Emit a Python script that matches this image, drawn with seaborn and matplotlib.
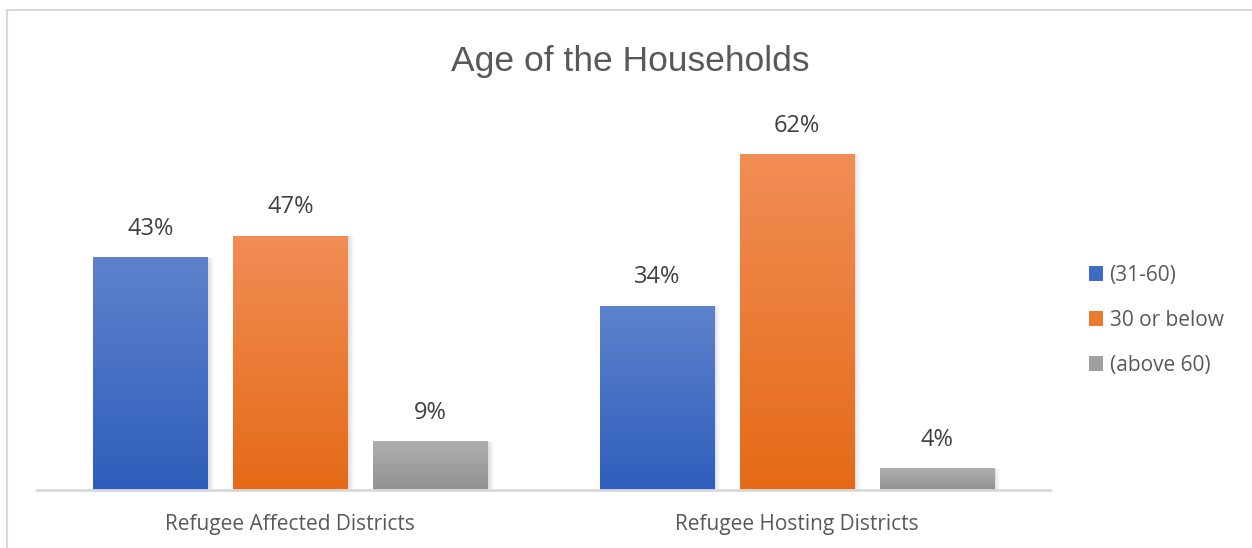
import numpy as np
import pandas as pd
import matplotlib
matplotlib.use("Agg")
import matplotlib.pyplot as plt
import matplotlib.colors as mcolors
from matplotlib.patches import Rectangle
import seaborn as sns

# Data
districts = ["Refugee Affected Districts", "Refugee Hosting Districts"]
age_groups = ["(31-60)", "30 or below", "(above 60)"]
share_31_60 = [43, 34]
share_30_below = [47, 62]
share_above_60 = [9, 4]

# Gradient colours per age group (top, bottom)
top_colors = ["#5E82CC", "#F18D55", "#AEAEAE"]
bottom_colors = ["#2E5EBC", "#E56A17", "#929292"]
legend_colors = ["#3F6BC4", "#EC7A2E", "#A0A0A0"]

df = pd.DataFrame({
    "district": np.repeat(districts, len(age_groups)),
    "age": age_groups * len(districts),
    "share": [v for i in range(len(districts))
              for v in (share_31_60[i], share_30_below[i], share_above_60[i])],
})

sns.set_theme(style="white")
plt.rcParams["font.family"] = ["Open Sans", "DejaVu Sans"]

fig = plt.figure(figsize=(12.52, 5.48), dpi=100)
W, H = 1252, 548
ax = fig.add_axes([37 / W, 1 - 490 / H, (1050 - 37) / W, 379 / H])

sns.barplot(data=df, x="district", y="share", hue="age", order=districts,
            hue_order=age_groups, palette=legend_colors, width=0.829, gap=0.185,
            ax=ax, legend=False, saturation=1)

ax.set_xlim(-0.5, 1.5)
ax.set_ylim(0, 70)

# Replace flat fills with vertical gradients and soft shadows
patches = list(ax.patches)
for k, p in enumerate(patches):
    hue_idx = k // len(districts)
    x0, y0 = p.get_x(), p.get_y()
    w, h = p.get_width(), p.get_height()
    # soft shadow
    for s, a in [(0.010, 0.03), (0.007, 0.04), (0.004, 0.05)]:
        ax.add_patch(Rectangle((x0 + s * 0.3, y0 - 0.2), w + s, h + 0.2 - s * 15,
                               facecolor="black", alpha=a, lw=0, zorder=1.5))
    c_top = np.array(mcolors.to_rgb(top_colors[hue_idx]))
    c_bot = np.array(mcolors.to_rgb(bottom_colors[hue_idx]))
    t = np.linspace(0, 1, 256)[:, None]
    grad = (c_top[None, :] * (1 - t) + c_bot[None, :] * t)[:, None, :]
    im = ax.imshow(grad, extent=[x0, x0 + w, y0, y0 + h], origin="upper",
                   aspect="auto", zorder=2.5, interpolation="bilinear")
    im.set_clip_path(p)
    p.set_zorder(2)
    p.set_edgecolor("none")
    ax.annotate(f"{int(round(h))}%", (x0 + w / 2, y0 + h), xytext=(0, 12),
                textcoords="offset points", ha="center", va="bottom",
                fontsize=17, color="#404040", family=["Open Sans", "DejaVu Sans"])

ax.set_xlim(-0.5, 1.5)
ax.set_ylim(0, 70)
ax.set_xlabel("")
ax.set_ylabel("")
ax.set_yticks([])
ax.tick_params(axis="x", length=0, pad=17, labelsize=15, labelcolor="#595959")
for lab in ax.get_xticklabels():
    lab.set_family(["Open Sans", "DejaVu Sans"])
for side in ["top", "right", "left"]:
    ax.spines[side].set_visible(False)
ax.spines["bottom"].set_color("#D9D9D9")
ax.spines["bottom"].set_linewidth(2)
ax.spines["bottom"].set_zorder(3)

# Legend
handles = [Rectangle((0, 0), 1, 1, facecolor=c, edgecolor="none") for c in legend_colors]
fig.legend(handles, age_groups, loc="upper left", bbox_to_anchor=(1070 / W, 1 - 246 / H),
           frameon=False, labelcolor="#595959", handlelength=0.7,
           handleheight=0.7, handletextpad=0.3, labelspacing=1.15,
           prop={"family": ["Open Sans", "DejaVu Sans"], "size": 15})

# Title
fig.text(630 / W, 1 - 61 / H, "Age of the Households", ha="center", va="center",
         fontsize=25.5, color="#595959", family=["Liberation Sans", "DejaVu Sans"])

# Chart frame
fig.add_artist(plt.Line2D([7 / W, 7 / W], [0, 1 - 10 / H], color="#D9D9D9", lw=1.5,
                          transform=fig.transFigure))
fig.add_artist(plt.Line2D([7 / W, 1], [1 - 10 / H, 1 - 10 / H], color="#D9D9D9", lw=1.5,
                          transform=fig.transFigure))

fig.savefig("out.png", dpi=100, facecolor="white")
